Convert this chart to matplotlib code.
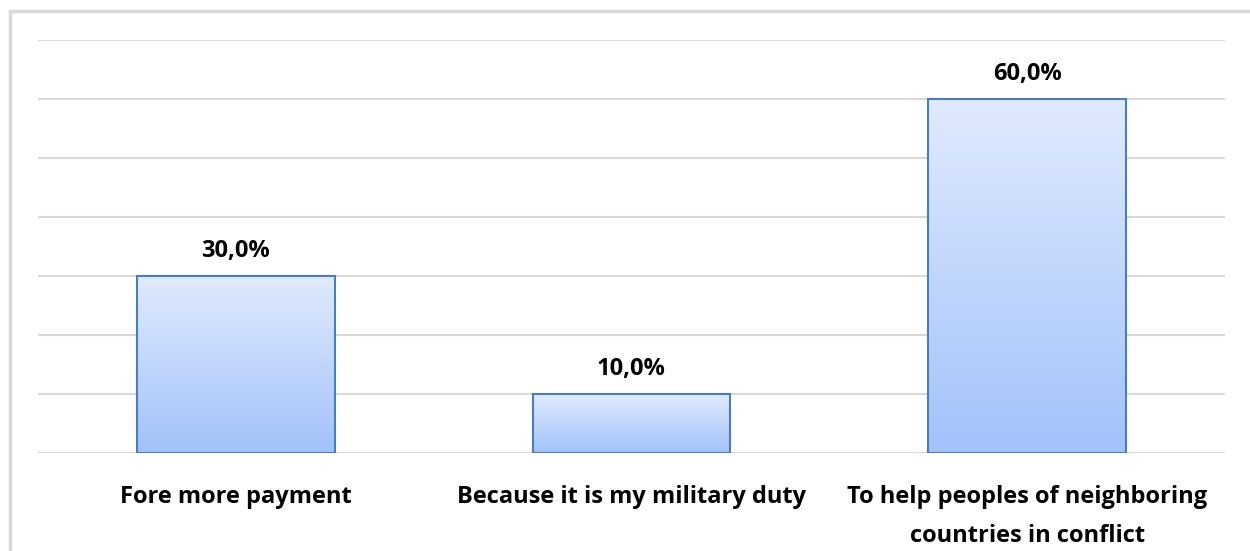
import matplotlib
matplotlib.use("Agg")
import matplotlib.pyplot as plt
import numpy as np
from matplotlib.patches import Rectangle
from matplotlib.colors import LinearSegmentedColormap

categories = ["Fore more payment", "Because it is my military duty",
              "To help peoples of neighboring\ncountries in conflict"]
values = [30.0, 10.0, 60.0]
value_labels = ["30,0%", "10,0%", "60,0%"]

plt.rcParams['font.family'] = ['Open Sans', 'DejaVu Sans']

W, H = 1250, 551
fig = plt.figure(figsize=(W/100, H/100), dpi=100)

# outer frame (light gray border, right/bottom beyond image)
fig.add_artist(Rectangle((10/W, -0.1), 1.2, (H-10.5)/H + 0.1, transform=fig.transFigure,
                         fill=False, edgecolor="#d9d9d9", linewidth=2.5))

left, right = 38, 1225
top, bottom = 40, 453
ax = fig.add_axes([left/W, 1-bottom/H, (right-left)/W, (bottom-top)/H])
ax.set_xlim(-0.5, 2.5)
ax.set_ylim(0, 70)
ax.set_yticks(np.arange(0, 71, 10))
ax.yaxis.grid(True, color="#d9d9d9", linewidth=1.5)
ax.set_axisbelow(True)
for s in ax.spines.values():
    s.set_visible(False)
ax.tick_params(axis='y', left=False, labelleft=False)
ax.tick_params(axis='x', bottom=False, pad=19.5)
ax.set_xticks(range(len(categories)))
ax.set_xticklabels(categories, fontsize=17, fontweight='bold', linespacing=1.85, va='top')

cmap = LinearSegmentedColormap.from_list("g", ["#a2c2fa", "#e0eafd"])
grad = np.linspace(0, 1, 256).reshape(-1, 1)
bars = ax.bar(range(len(categories)), values, width=0.5, color="none",
              edgecolor="#4a7ebb", linewidth=1.5, zorder=3)
for b, v, lab in zip(bars, values, value_labels):
    x0, w, h = b.get_x(), b.get_width(), b.get_height()
    im = ax.imshow(grad, cmap=cmap, origin='lower', aspect='auto',
                   extent=(x0, x0 + w, 0, h), zorder=2)
    im.set_clip_path(b)
    ax.annotate(lab, (x0 + w/2, h), xytext=(0, 13.5), textcoords='offset points',
                ha='center', va='baseline', fontsize=17, fontweight='bold')
ax.set_xlim(-0.5, 2.5)
ax.set_ylim(0, 70)

fig.savefig("out.png", dpi=100, facecolor="white")
